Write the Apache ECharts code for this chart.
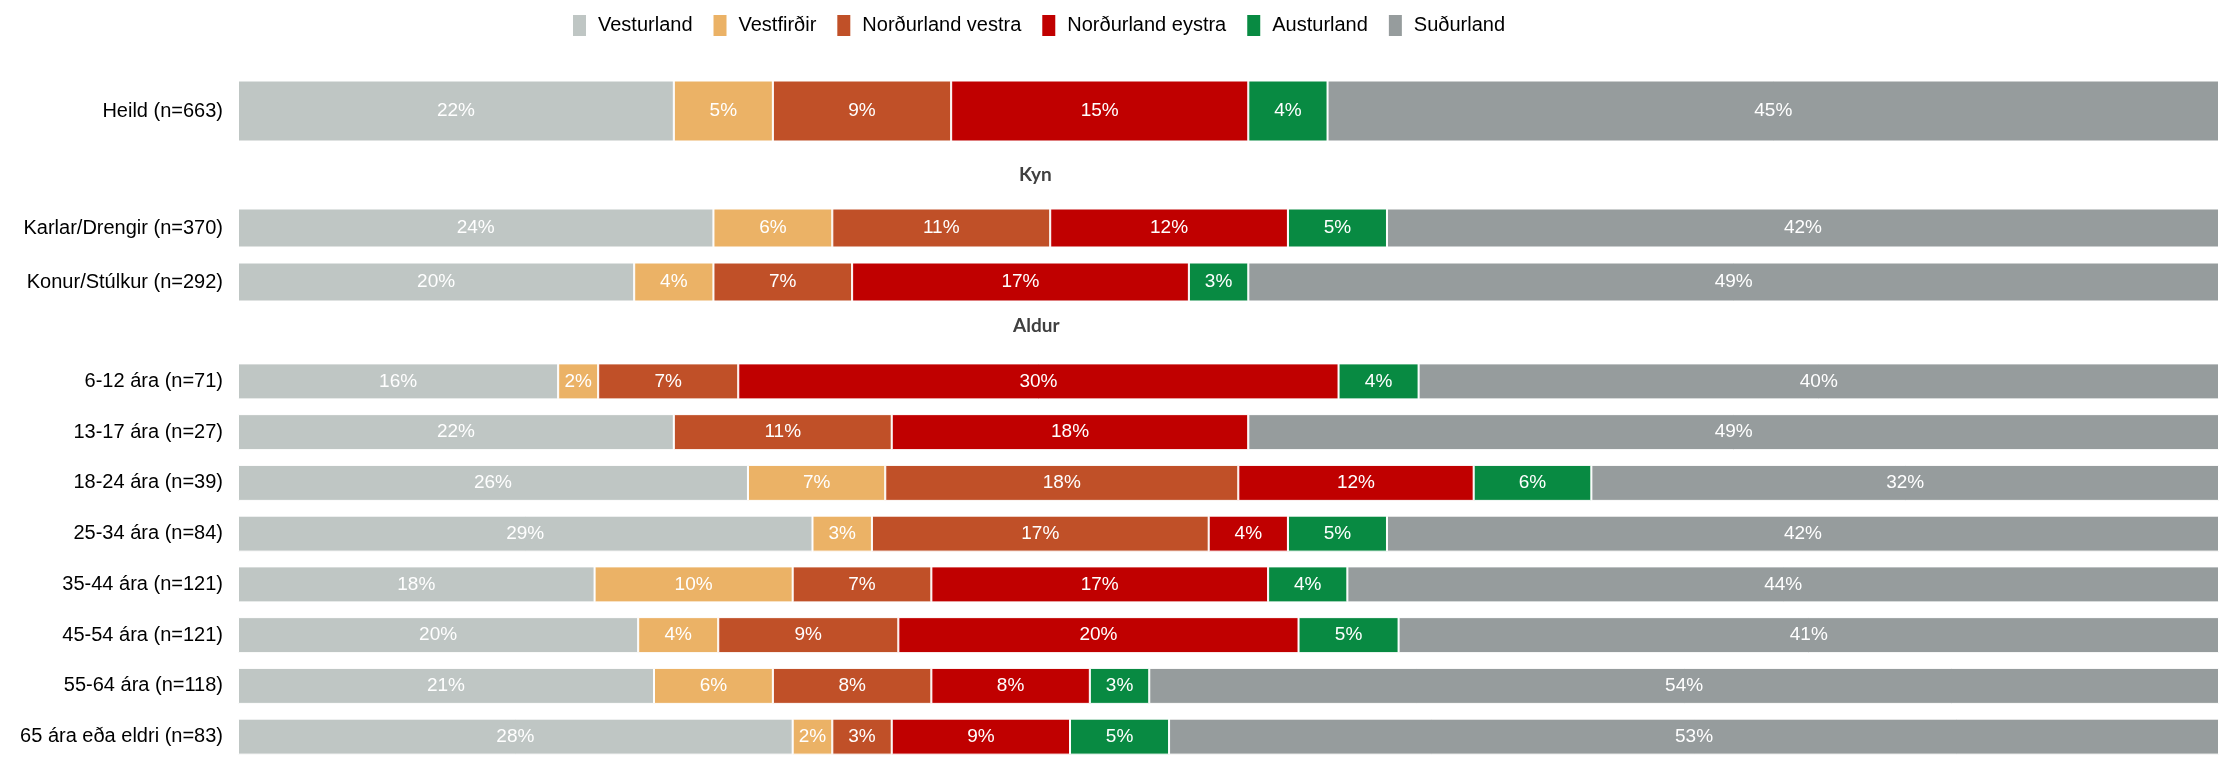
<!DOCTYPE html>
<html>
<head>
<meta charset="utf-8">
<script src="https://cdn.jsdelivr.net/npm/echarts@6/dist/echarts.min.js"></script>
<style>
html,body{margin:0;padding:0;background:#fff;}
#chart{width:2231px;height:762px;}
</style>
</head>
<body>
<div id="chart"></div>
<script>
// Regions (series)
const regions = ['Vesturland', 'Vestfirðir', 'Norðurland vestra', 'Norðurland eystra', 'Austurland', 'Suðurland'];
const colors = ['#BFC6C4', '#EBB266', '#C05028', '#C00000', '#088A42', '#969C9D'];

// Section titles
const sectionTitles = ['Kyn', 'Aldur'];

// Categories
const heildCats = ['Heild (n=663)'];
const kynCats = ['Karlar/Drengir (n=370)', 'Konur/Stúlkur (n=292)'];
const aldurCats = ['6-12 ára (n=71)', '13-17 ára (n=27)', '18-24 ára (n=39)', '25-34 ára (n=84)',
  '35-44 ára (n=121)', '45-54 ára (n=121)', '55-64 ára (n=118)', '65 ára eða eldri (n=83)'];

// Values (%) per row, in region order
const heildValues = [
  [22, 5, 9, 15, 4, 45]
];
const kynValues = [
  [24, 6, 11, 12, 5, 42],
  [20, 4, 7, 17, 3, 49]
];
const aldurValues = [
  [16, 2, 7, 30, 4, 40],
  [22, 0, 11, 18, 0, 49],
  [26, 7, 18, 12, 6, 32],
  [29, 3, 17, 4, 5, 42],
  [18, 10, 7, 17, 4, 44],
  [20, 4, 9, 20, 5, 41],
  [21, 6, 8, 8, 3, 54],
  [28, 2, 3, 9, 5, 53]
];

const FONT = '"Liberation Sans", Arial, sans-serif';

const groups = [
  {cats: heildCats, vals: heildValues, top: 80, height: 62, barWidth: 61},
  {cats: kynCats, vals: kynValues, top: 201, height: 108, barWidth: 39},
  {cats: aldurCats, vals: aldurValues, top: 356, height: 416, barWidth: 36}
];

const grid = [], xAxis = [], yAxis = [], series = [];
groups.forEach((g, gi) => {
  grid.push({left: 238, right: 12, top: g.top, height: g.height, containLabel: false});
  xAxis.push({type: 'value', gridIndex: gi, min: 0, max: 100, show: false});
  yAxis.push({
    type: 'category', gridIndex: gi, data: g.cats, inverse: true,
    axisLine: {show: false}, axisTick: {show: false}, splitLine: {show: false},
    axisLabel: {fontSize: 20, color: '#000', fontFamily: FONT, margin: 15}
  });
  regions.forEach((r, ri) => {
    series.push({
      name: r, type: 'bar', stack: 'g' + gi,
      xAxisIndex: gi, yAxisIndex: gi,
      barWidth: g.barWidth,
      itemStyle: {color: colors[ri], borderColor: '#fff', borderWidth: 1},
      label: {
        show: true, position: 'inside', color: '#fff', fontSize: 19, fontFamily: FONT,
        formatter: p => p.data.raw + '%'
      },
      emphasis: {disabled: true},
      data: g.vals.map(row => {
        const sum = row.reduce((a, b) => a + b, 0);
        const v = row[ri];
        return {value: v / sum * 100, raw: v, label: {show: v > 0}};
      })
    });
  });
});

const chart = echarts.init(document.getElementById('chart'), null, {renderer: 'canvas'});
chart.setOption({
  animation: false,
  color: colors,
  legend: {
    data: regions, left: 566, top: 8, itemWidth: 15, itemHeight: 23, itemGap: 19,
    icon: 'rect',
    textStyle: {fontSize: 20, color: '#000', fontFamily: FONT, padding: [0, 0, 0, 6]}
  },
  grid, xAxis, yAxis, series,
  graphic: [
    {type: 'text', left: 1039 - 20, top: 165, style: {text: sectionTitles[0], x: 0, y: 0, font: 'bold 19px Lato, "Open Sans", sans-serif', fill: '#404040'}},
    {type: 'text', left: 1039 - 26, top: 316, style: {text: sectionTitles[1], x: 0, y: 0, font: 'bold 19px Lato, "Open Sans", sans-serif', fill: '#404040'}}
  ]
});
</script>
</body>
</html>
